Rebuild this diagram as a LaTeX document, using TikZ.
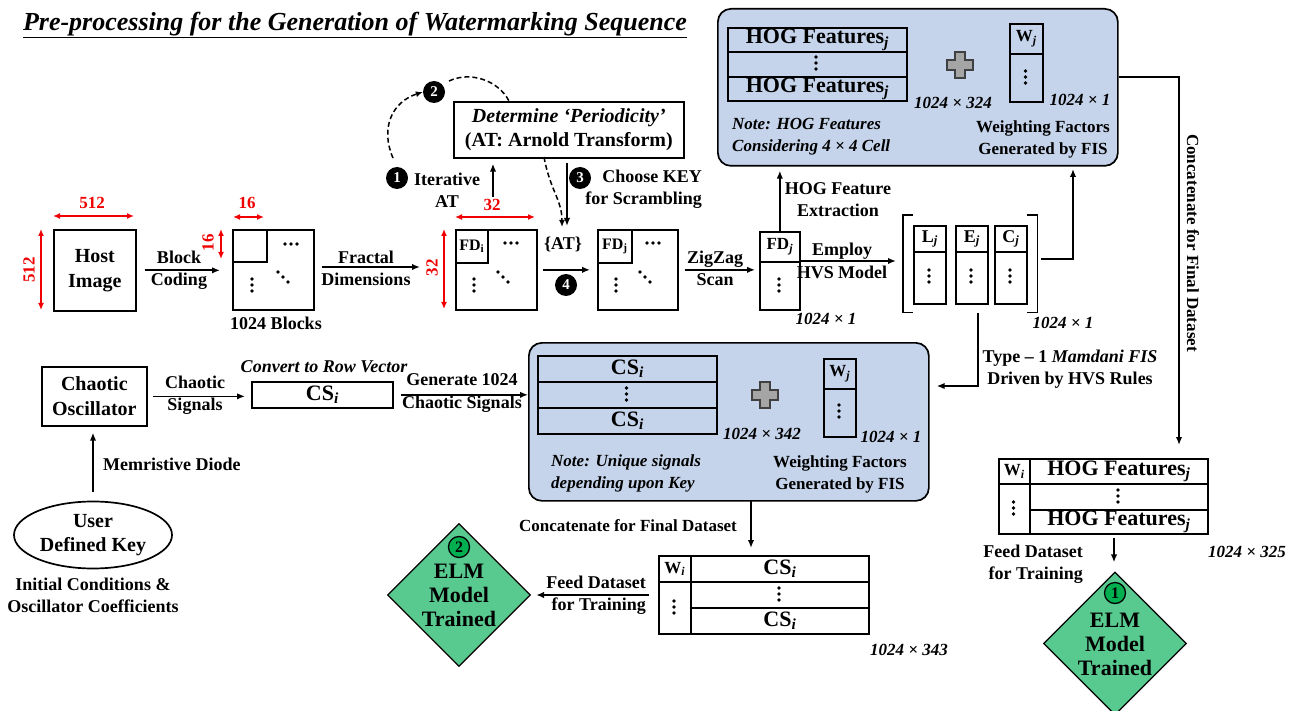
\documentclass[tikz,border=0pt]{standalone}
\usepackage{fontspec}
\setmainfont{Liberation Serif}
\usetikzlibrary{arrows.meta,shapes.geometric,calc}
\definecolor{boxblue}{RGB}{197,212,235}
\definecolor{elmgreen}{RGB}{88,201,143}
\definecolor{numgreen}{RGB}{0,176,80}
\definecolor{plusgray}{RGB}{165,165,165}
\definecolor{dimred}{RGB}{240,0,0}
\newcommand\myfs[2]{\fontsize{#1pt}{#2pt}\selectfont}
\begin{document}
\begin{tikzpicture}[x=1pt,y=-1pt,
  bx/.style={draw,line width=1.7pt,inner sep=0pt,anchor=north west,align=center},
  lb/.style={font=\bfseries\myfs{18}{22},align=center,inner sep=0pt},
  dimtxt/.style={font=\bfseries\itshape\myfs{17}{20},inner sep=0pt},
  arr/.style={-{Latex[length=8pt,width=6.5pt]},line width=1.7pt},
  dsh/.style={dash pattern=on 5pt off 3pt,line width=1.5pt},
  darr/.style={{Latex[length=7pt,width=6pt]}-{Latex[length=7pt,width=6pt]},line width=1.5pt,draw=dimred},
  dl/.style={font=\bfseries\myfs{17}{20},text=dimred,inner sep=0pt},
  num/.style={circle,fill=black,text=white,font=\bfseries\myfs{15}{15},inner sep=0pt,minimum size=22pt},
  gnum/.style={circle,draw=black,line width=1.3pt,fill=numgreen,text=black,font=\bfseries\myfs{16}{16},inner sep=0pt,minimum size=21pt},
  panel/.style={draw,line width=1.7pt,fill=boxblue,rounded corners=13pt,inner sep=0pt,anchor=north west},
  elm/.style={diamond,aspect=1,draw,line width=1.3pt,fill=elmgreen,inner sep=0pt,minimum width=143pt,minimum height=143pt},
  elmtxt/.style={font=\bfseries\myfs{22}{24},align=center,inner sep=0pt},
  notetxt/.style={font=\bfseries\itshape\myfs{17}{22},align=left,anchor=west,inner sep=0pt},
  wftxt/.style={font=\bfseries\myfs{17}{22},align=center,inner sep=0pt},
  big/.style={font=\bfseries\myfs{22}{22}},
  vd/.pic={\foreach \k in {-6,0,6} \fill (0,\k) circle (1.8pt);},
  hd/.pic={\foreach \k in {-6,0,6} \fill (\k,0) circle (1.8pt);},
  dd/.pic={\foreach \k in {-5,0,5} \fill (\k,\k) circle (1.8pt);},
  plus/.pic={\draw[fill=plusgray,draw=black!75,line width=1.4pt] (-5,-13) -- (5,-13) -- (5,-5) -- (13,-5) -- (13,5) -- (5,5) -- (5,13) -- (-5,13) -- (-5,5) -- (-13,5) -- (-13,-5) -- (-5,-5) -- cycle;}
]
\useasboundingbox (0,0) rectangle (1301,711);
% title
\node[font=\bfseries\itshape\myfs{26}{28},inner sep=0pt] (title) at (355,25) {\underline{Pre-processing for the Generation of Watermarking Sequence}};

% host image
\node[bx,minimum width=82pt,minimum height=81pt,font=\bfseries\myfs{20}{25}] (host) at (53,229) {Host\\Image};
\coordinate (hA) at (53,216); \coordinate (hB) at (134,216);
\draw[darr] (hA) -- (hB);
\node[dl] (hW) at (92,203) {512};
\coordinate (hC) at (41,229); \coordinate (hD) at (41,310);
\draw[darr] (hC) -- (hD);
\node[dl,rotate=90] (hH) at (29,270) {512};

% blocks
\node[bx,minimum width=81pt,minimum height=80pt] (blk) at (232,229) {};
\node[bx,minimum width=34pt,minimum height=32pt] (blk1) at (232,229) {};
\pic at (291,244) {hd}; \pic at (252,285) {vd}; \pic at (283,277) {dd};
\node[lb] (blkl) at (276,323) {1024 Blocks};
\draw[arr,shorten <=8pt,shorten >=12pt] (host.east) -- (host.east -| blk.west);
\node[lb] (bcl) at (179,270) {Block\\Coding};
\coordinate (bA) at (233,217); \coordinate (bB) at (264,217);
\draw[darr] (bA) -- (bB);
\node[dl] (bW) at (247,203) {16};
\coordinate (bC) at (221,229); \coordinate (bD) at (221,259);
\draw[darr] (bC) -- (bD);
\node[dl,rotate=90] (bH) at (208,243) {16};

% fractal
\coordinate (fdA) at (322,267); \coordinate (fdB) at (420,267);
\draw[arr] (fdA) -- (fdB);
\node[lb] (fdl) at (366,268) {Fractal\\Dimensions};

% FD_i matrix
\node[bx,minimum width=81pt,minimum height=80pt] (fdi) at (455,229) {};
\node[bx,minimum width=32pt,minimum height=33pt,font=\bfseries\myfs{16}{16}] (fdi1) at (455,229) {FD\textsubscript{i}};
\pic at (511,243) {hd}; \pic at (474,285) {vd}; \pic at (503,277) {dd};
\coordinate (iA) at (455,217); \coordinate (iB) at (535,217);
\draw[darr] (iA) -- (iB);
\node[dl] (iW) at (492,205) {32};
\coordinate (iC) at (444,229); \coordinate (iD) at (444,309);
\draw[darr] (iC) -- (iD);
\node[dl,rotate=90] (iH) at (432,268) {32};

% FD_j matrix
\node[bx,minimum width=80pt,minimum height=80pt] (fdj) at (597,229) {};
\node[bx,minimum width=34pt,minimum height=33pt,font=\bfseries\myfs{16}{16}] (fdj1) at (597,229) {FD\textsubscript{j}};
\pic at (653,243) {hd}; \pic at (616,285) {vd}; \pic at (645,277) {dd};
\draw[arr,shorten <=5pt,shorten >=7pt] (fdi.east) -- (fdi.east -| fdj.west);
\node[font=\bfseries\myfs{18}{20},inner sep=0pt] (atl) at (563,244) {\{AT\}};
\node[num] (n4) at (566,285) {4};

% periodicity
\node[bx,minimum width=230pt,minimum height=56pt,font=\bfseries\myfs{20}{24}] (per) at (453,101) {\textit{Determine ‘Periodicity’}\\(AT: Arnold Transform)};
\coordinate (itA) at (493,197);
\draw[arr,shorten >=5pt] (itA) -- (itA |- per.south);
\node[num] (n1) at (397,178) {1};
\node[lb] (itl) at (447,190) {Iterative\\AT};
\node[num] (n2) at (434,92) {2};
\coordinate (dA) at (393,158);
\draw[dsh,-{Latex[length=7pt,width=6pt]}] (dA) .. controls (380,128) and (392,102) .. (n2.west);
\coordinate (dB) at (449,81); \coordinate (dC) at (509,101);
\draw[dsh] (dB) .. controls (470,71) and (498,80) .. (dC);
\coordinate (dD) at (544,157); \coordinate (dE) at (562,227);
\draw[dsh,-{Latex[length=7pt,width=6pt]}] (dD) .. controls (550,190) and (562,200) .. (dE);
\coordinate (kA) at (567,163); \coordinate (kB) at (567,226);
\draw[arr] (kA) -- (kB);
\node[num] (n3) at (580,178) {3};
\node[lb,align=right,anchor=east] (kl) at (702,189) {Choose KEY\\for Scrambling};

% zigzag
\node[bx,minimum width=40pt,minimum height=78pt] (fdv) at (759,231) {};
\node[bx,minimum width=40pt,minimum height=30pt,font=\bfseries\myfs{17}{17}] (fdv1) at (759,231) {FD\textsubscript{\textit{j}}};
\pic at (779,285) {vd};
\node[dimtxt] (fdvd) at (826,319) {1024 × 1};
\draw[arr,shorten <=6pt,shorten >=4pt] (fdj.east) -- (fdj.east -| fdv.west);
\node[lb] (zzl) at (715,268) {ZigZag\\Scan};

% top panel
\node[panel,minimum width=400pt,minimum height=157pt] (top) at (717,8) {};
\node[bx,big,minimum width=179pt,minimum height=24pt] (hog1) at (727,27) {HOG Features\textsubscript{\textit{j}}};
\node[bx,minimum width=179pt,minimum height=25pt] (hog2) at (727,51) {};
\pic at (816,63) {vd};
\node[bx,big,minimum width=179pt,minimum height=24pt] (hog3) at (727,76) {HOG Features\textsubscript{\textit{j}}};
\pic at (960,65) {plus};
\node[bx,minimum width=33pt,minimum height=78pt] (wj) at (1009,23) {};
\node[bx,minimum width=33pt,minimum height=30pt,font=\bfseries\myfs{17}{17}] (wj1) at (1009,23) {W\textsubscript{\textit{j}}};
\pic at (1025.5,77) {vd};
\node[dimtxt] (hogd) at (953,103) {1024 × 324};
\node[dimtxt] (wjd) at (1080,100) {1024 × 1};
\node[notetxt] (note1) at (732,137) {Note: HOG Features\\Considering 4 × 4 Cell};
\node[wftxt] (wf1) at (1043,139) {Weighting Factors\\Generated by FIS};

\draw[arr,shorten >=4pt] (fdv.north) -- (fdv.north |- top.south);
\node[lb] (hogl) at (838,200) {HOG Feature\\Extraction};

% HVS
\node[minimum width=134pt,minimum height=97pt,inner sep=0pt,anchor=north west] (hvs) at (903,215) {};
\draw[line width=1.7pt] ($(hvs.north west)+(10,0)$) -- (hvs.north west) -- (hvs.south west) -- ++(10,0);
\draw[line width=1.7pt] ($(hvs.north east)+(-10,0)$) -- (hvs.north east) -- (hvs.south east) -- ++(-10,0);
\node[bx,minimum width=32pt,minimum height=78pt] (colL) at (913,225) {};
\node[bx,minimum width=32pt,minimum height=26pt,font=\bfseries\myfs{18}{18}] (colL1) at (913,225) {L\textsubscript{\textit{j}}};
\pic at (929,276) {vd};
\node[bx,minimum width=32pt,minimum height=78pt] (colE) at (955,225) {};
\node[bx,minimum width=32pt,minimum height=26pt,font=\bfseries\myfs{18}{18}] (colE1) at (955,225) {E\textsubscript{\textit{j}}};
\pic at (971,276) {vd};
\node[bx,minimum width=32pt,minimum height=78pt] (colC) at (994,225) {};
\node[bx,minimum width=32pt,minimum height=26pt,font=\bfseries\myfs{18}{18}] (colC1) at (994,225) {C\textsubscript{\textit{j}}};
\pic at (1010,276) {vd};
\node[dimtxt] (hvsd) at (1063,323) {1024 × 1};
\coordinate (eA) at (799,261);
\draw[arr,shorten >=7pt] (fdv.east |- eA) -- (hvs.west |- eA);
\node[lb,font=\bfseries\myfs{18}{23}] (empl) at (842,261) {Employ\\HVS Model};
\coordinate (rA) at (1041,259); \coordinate (rB) at (1073,165);
\draw[arr,shorten >=4pt] (rA) -| (rB);

% lower panel
\node[panel,minimum width=400pt,minimum height=158pt] (low) at (528,342) {};
\node[bx,big,minimum width=179pt,minimum height=26pt] (cs1) at (537,355) {CS\textsubscript{\textit{i}}};
\node[bx,minimum width=179pt,minimum height=26pt] (cs2) at (537,381) {};
\pic at (626.5,394) {vd};
\node[bx,big,minimum width=179pt,minimum height=26pt] (cs3) at (537,407) {CS\textsubscript{\textit{i}}};
\pic at (765,395) {plus};
\node[bx,minimum width=32pt,minimum height=78pt] (wj2) at (823,358) {};
\node[bx,minimum width=32pt,minimum height=30pt,font=\bfseries\myfs{17}{17}] (wj21) at (823,358) {W\textsubscript{\textit{j}}};
\pic at (839,411) {vd};
\node[dimtxt] (csd) at (762,434) {1024 × 342};
\node[dimtxt] (lwd) at (891,437) {1024 × 1};
\node[notetxt] (note2) at (551,473) {Note: Unique signals\\depending upon Key};
\node[wftxt] (wf2) at (840,474) {Weighting Factors\\Generated by FIS};

\coordinate (tA) at (978,313); \coordinate (tB) at (978,386);
\draw[arr,shorten >=7pt] (tA) -- (tB) -- (tB -| low.east);
\node[lb] (typel) at (1070,369) {Type – 1 \textit{Mamdani FIS}\\Driven by HVS Rules};

% right column
\node[bx,minimum width=31pt,minimum height=75pt] (rtw) at (998,458) {};
\node[bx,minimum width=31pt,minimum height=25pt,font=\bfseries\myfs{17}{17}] (rtw1) at (998,458) {W\textsubscript{\textit{i}}};
\pic at (1013.5,508) {vd};
\node[bx,big,minimum width=178pt,minimum height=25pt] (rt1) at (1029,458) {HOG Features\textsubscript{\textit{j}}};
\node[bx,minimum width=178pt,minimum height=26pt] (rt2) at (1029,483) {};
\pic at (1118,496) {vd};
\node[bx,big,minimum width=178pt,minimum height=24pt] (rt3) at (1029,509) {HOG Features\textsubscript{\textit{j}}};
\node[dimtxt] (rtd) at (1247,552) {1024 × 325};
\coordinate (cA) at (1179,77);
\draw[arr,shorten >=13pt] (top.east |- cA) -- (cA) -- (cA |- rt1.north);
\node[font=\bfseries\myfs{17}{17},rotate=-90,inner sep=0pt] (catl) at (1193,243) {Concatenate for Final Dataset};
\node[elm] (elm1) at (1115,643.5) {};
\node[gnum] (g1) at (1115,593) {1};
\node[elmtxt] (elm1t) at (1115,644) {ELM\\Model\\Trained};
\coordinate (fA) at (1114,538);
\draw[arr,shorten >=9pt] (fA) -- (fA |- elm1.north);
\node[lb,align=right,anchor=east] (feed1) at (1083,564) {Feed Dataset\\for Training};

% bottom table
\node[bx,minimum width=32pt,minimum height=78pt] (btw) at (658,555) {};
\node[bx,minimum width=32pt,minimum height=26pt,font=\bfseries\myfs{17}{17}] (btw1) at (658,555) {W\textsubscript{\textit{i}}};
\pic at (674,607) {vd};
\node[bx,big,minimum width=178pt,minimum height=26pt] (bt1) at (690,555) {CS\textsubscript{\textit{i}}};
\node[bx,minimum width=178pt,minimum height=26pt] (bt2) at (690,581) {};
\pic at (779,594) {vd};
\node[bx,big,minimum width=178pt,minimum height=26pt] (bt3) at (690,607) {CS\textsubscript{\textit{i}}};
\node[dimtxt] (btd) at (909,650) {1024 × 343};
\coordinate (gA) at (751,500);
\draw[arr,shorten >=7pt] (gA) -- (gA |- bt1.north);
\node[font=\bfseries\myfs{17}{17},inner sep=0pt] (cat2) at (628,526) {Concatenate for Final Dataset};
\node[elm] (elm2) at (459,595) {};
\node[gnum] (g2) at (459,547) {2};
\node[elmtxt] (elm2t) at (459,595) {ELM\\Model\\Trained};
\coordinate (hA2) at (649,595);
\draw[arr,shorten >=5pt] (hA2) -- (hA2 -| elm2.east);
\node[lb,align=right,anchor=east] (feed2) at (646,595) {Feed Dataset\\for Training};

% chaotic
\node[bx,minimum width=105pt,minimum height=59pt,font=\bfseries\myfs{20}{25}] (osc) at (41,366) {Chaotic\\Oscillator};
\node[bx,big,minimum width=141pt,minimum height=26pt] (cs) at (251,381) {CS\textsubscript{\textit{i}}};
\draw[arr,shorten <=5pt,shorten >=6pt] (osc.east) -- (osc.east -| cs.west);
\node[lb] (csl) at (195,395) {Chaotic\\Signals};
\node[font=\bfseries\itshape\myfs{18}{18},inner sep=0pt] (cvl) at (324,367) {Convert to Row Vector};
\draw[arr,shorten <=7pt] (cs.east) -- (cs.east -| low.west);
\node[lb] (genl) at (462,393) {Generate 1024\\Chaotic Signals};
\node[ellipse,draw,line width=1.7pt,minimum width=158pt,minimum height=67pt,inner sep=0pt,font=\bfseries\myfs{20}{24},align=center] (key) at (93,535) {User\\Defined Key};
\draw[arr,shorten <=9pt,shorten >=6pt] (key.north) -- (key.north |- osc.south);
\node[lb,anchor=west] (meml) at (103,464) {Memristive Diode};
\node[lb] (icl) at (93,595) {Initial Conditions \&\\Oscillator Coefficients};
\end{tikzpicture}
\end{document}
